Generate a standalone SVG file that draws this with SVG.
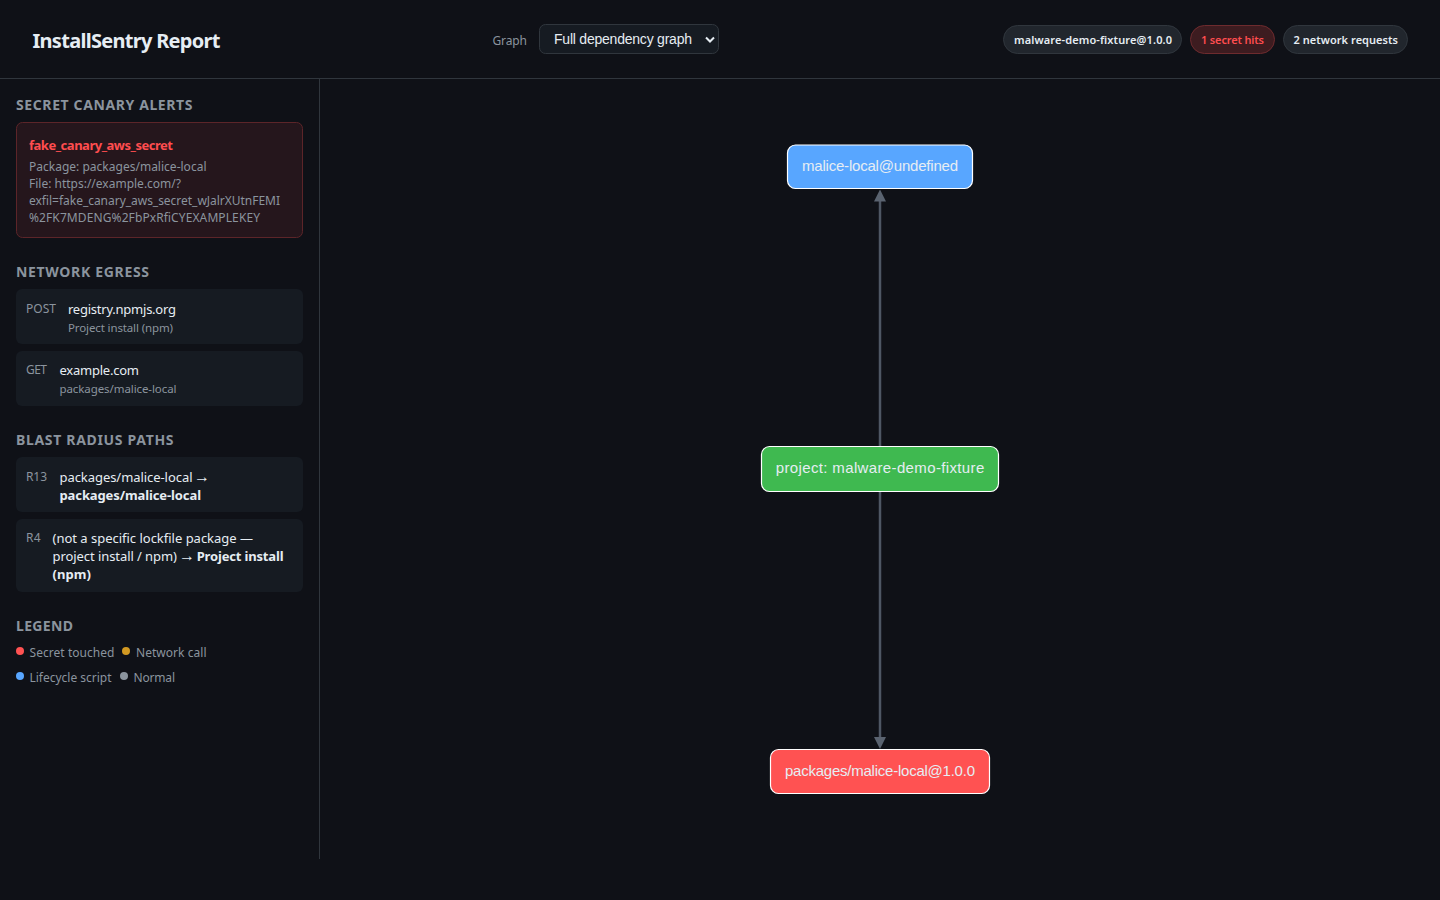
<svg xmlns="http://www.w3.org/2000/svg" width="1440" height="900" viewBox="0 0 1440 900">
<style>
text{font-family:"Noto Sans","Open Sans",sans-serif;white-space:pre}
.h{font-size:14px;font-weight:700;fill:#8b949e}
.card{fill:#161b22}
.m{font-size:13px;fill:#e6edf3}
.arw{font-family:"Liberation Sans",Arial,sans-serif;font-size:16px;fill:#e6edf3}
.k{font-size:12px;fill:#8b949e}
.s{font-size:11.5px;fill:#8b949e}
.b{font-weight:700}
.a{font-size:12px;fill:#8b949e}
.l{font-size:12px;fill:#8b949e}
.pill{font-size:11px;font-weight:600;fill:#e6edf3}
.node text{font-family:"Liberation Sans",Arial,sans-serif;font-size:15px;fill:#e6edf3;text-anchor:middle}
.node rect{stroke:#fff;stroke-width:1.2}
.edge{stroke:#4e5764;stroke-width:2.5;fill:none}
</style>
<defs>
<marker id="arr" viewBox="0 0 12 12" refX="2" refY="6" markerWidth="12" markerHeight="12" markerUnits="userSpaceOnUse" orient="auto"><path d="M0 0L12 6L0 12Z" fill="#5a6370"/></marker>
</defs>
<rect width="1440" height="900" fill="#0f1117"/>
<path d="M0 78.5H1440M319.5 79V859" stroke="#30363d" fill="none"/>

<g id="header">
<text x="32.500" y="48" font-size="20" font-weight="700" fill="#e6edf3" textLength="188">InstallSentry Report</text>
<text x="492.500" y="45" font-size="12" fill="#8b949e" textLength="34.500">Graph</text>
<rect x="539.500" y="24.500" width="179" height="29" rx="6" fill="#161b22" stroke="#30363d"/>
<text x="554" y="44" font-size="14" fill="#e6edf3" style="font-family:'Liberation Sans',Arial,sans-serif" textLength="138">Full dependency graph</text>
<path d="M706 37.500L710 41.500L714 37.500" fill="none" stroke="#e6edf3" stroke-width="2"/>
<rect x="1003.500" y="25.500" width="178" height="28" rx="14" fill="#21262d" stroke="#30363d"/>
<text class="pill" x="1014" y="44" textLength="158">malware-demo-fixture@1.0.0</text>
<rect x="1190.500" y="25.500" width="84" height="28" rx="14" fill="#3d1c20" stroke="#6e2b2e"/>
<text class="pill" x="1201" y="44" style="fill:#ff4d4f" textLength="63">1 secret hits</text>
<rect x="1283.500" y="25.500" width="124" height="28" rx="14" fill="#21262d" stroke="#30363d"/>
<text class="pill" x="1293.500" y="44" textLength="104.500">2 network requests</text>
</g>

<g id="sidebar">
<text class="h" x="16" y="110" textLength="176.500">SECRET CANARY ALERTS</text>
<rect x="16.500" y="122.500" width="286" height="115" rx="6" fill="#25161c" stroke="#5c2529"/>
<text x="29" y="150" font-size="13" font-weight="700" fill="#ff4d4f" textLength="144">fake_canary_aws_secret</text>
<text class="a" x="29" y="171" textLength="177.500">Package: packages/malice-local</text>
<text class="a" x="29" y="188" textLength="152">File: https://example.com/?</text>
<text class="a" x="29" y="205" textLength="251">exfil=fake_canary_aws_secret_wJalrXUtnFEMI</text>
<text class="a" x="29" y="222" textLength="231">%2FK7MDENG%2FbPxRfiCYEXAMPLEKEY</text>

<text class="h" x="16" y="277" textLength="133">NETWORK EGRESS</text>
<rect class="card" x="16" y="289" width="287" height="55" rx="6"/>
<text class="k" x="26" y="313" textLength="30">POST</text>
<text class="m" x="68" y="314" textLength="108">registry.npmjs.org</text>
<text class="s" x="68" y="332" textLength="105">Project install (npm)</text>
<rect class="card" x="16" y="351" width="287" height="55" rx="6"/>
<text class="k" x="26" y="374" textLength="21">GET</text>
<text class="m" x="59.500" y="375" textLength="79.500">example.com</text>
<text class="s" x="59.500" y="393" textLength="117">packages/malice-local</text>

<text class="h" x="16" y="445" textLength="157.500">BLAST RADIUS PATHS</text>
<rect class="card" x="16" y="457" width="287" height="55" rx="6"/>
<text class="k" x="26" y="481" textLength="21">R13</text>
<text class="m" x="59.500" y="482" textLength="133">packages/malice-local</text>
<text class="arw" x="194" y="482">→</text>
<text class="m b" x="59.500" y="500" textLength="141.500">packages/malice-local</text>
<rect class="card" x="16" y="519" width="287" height="73" rx="6"/>
<text class="k" x="26" y="542" textLength="14.500">R4</text>
<text class="m" x="52.500" y="543" textLength="200.500">(not a specific lockfile package —</text>
<text class="m" x="52.500" y="561" textLength="124.500">project install / npm)</text>
<text class="arw" x="179" y="561">→</text>
<text class="m b" x="196.700" y="561" textLength="86.800">Project install</text>
<text class="m b" x="52.500" y="579" textLength="38.500">(npm)</text>

<text class="h" x="16" y="631" textLength="57">LEGEND</text>
<circle cx="20" cy="651" r="4" fill="#ff5252"/>
<text class="l" x="29.500" y="657" textLength="85">Secret touched</text>
<circle cx="126" cy="651" r="4" fill="#d29922"/>
<text class="l" x="136" y="657" textLength="70.500">Network call</text>
<circle cx="20" cy="676" r="4" fill="#58a6ff"/>
<text class="l" x="29.500" y="682" textLength="82">Lifecycle script</text>
<circle cx="124" cy="676" r="4" fill="#8b949e"/>
<text class="l" x="133.500" y="682" textLength="41.500">Normal</text>
</g>

<g id="connectors">
<path class="edge" d="M880 446V199.500" marker-end="url(#arr)"/>
<path class="edge" d="M880 492V739" marker-end="url(#arr)"/>
</g>

<g id="node-malice-local" class="node">
<rect x="787.500" y="145" width="185" height="43.500" rx="8" fill="#58a6ff"/>
<text x="880" y="171" textLength="156">malice-local@undefined</text>
</g>
<g id="node-project" class="node">
<rect x="761.500" y="446.500" width="237" height="45" rx="8" fill="#3fb950"/>
<text x="880" y="473" textLength="208.500">project: malware-demo-fixture</text>
</g>
<g id="node-packages-malice-local" class="node">
<rect x="770.500" y="749.500" width="219" height="44" rx="8" fill="#ff5252"/>
<text x="880" y="776" textLength="190">packages/malice-local@1.0.0</text>
</g>
</svg>
